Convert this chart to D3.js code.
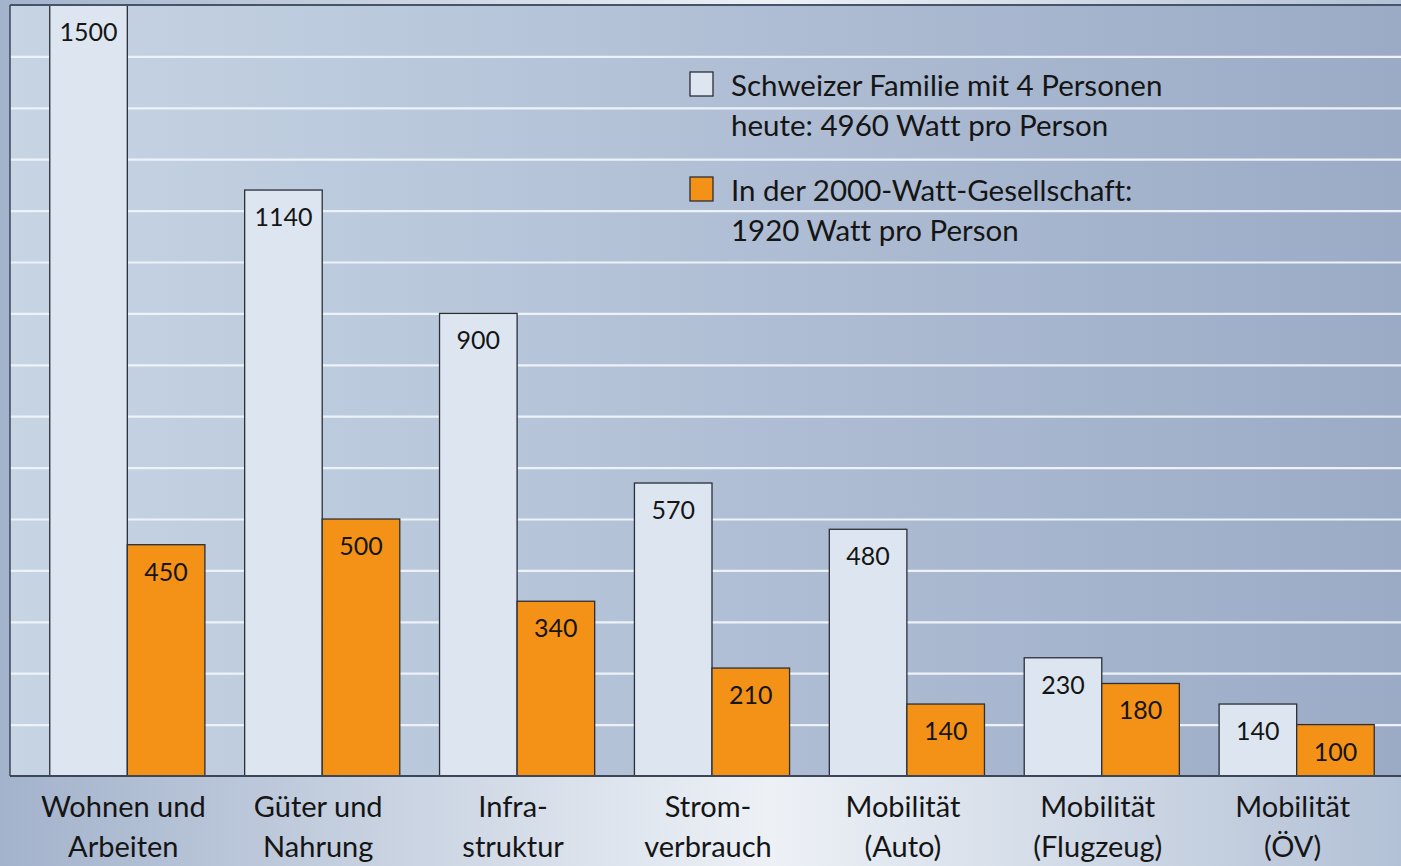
<!DOCTYPE html>
<html>
<head>
<meta charset="utf-8">
<script src="https://cdn.jsdelivr.net/npm/d3@7"></script>
<style>
    body { margin: 0; overflow: hidden; }
    text { font-family: Lato, "Open Sans", sans-serif; fill: #151515; font-variant-ligatures: none; }
</style>
</head>
<body>
<div id="chart"></div>
<script>
// data (Watt per person)
const categories = ["Wohnen und|Arbeiten", "Güter und|Nahrung", "Infra-|struktur", "Strom-|verbrauch",
    "Mobilität|(Auto)", "Mobilität|(Flugzeug)", "Mobilität|(ÖV)"];
const heute = [1500, 1140, 900, 570, 480, 230, 140];
const ziel = [450, 500, 340, 210, 140, 180, 100];
const seriesKeys = ["heute", "ziel"];
const seriesColors = ["#dde6f0", "#f39216"];
const legendLines = [
    ["Schweizer Familie mit 4 Personen", "heute: 4960 Watt pro Person"],
    ["In der 2000-Watt-Gesellschaft:", "1920 Watt pro Person"]
];
const gridValues = [100, 200, 300, 400, 500, 600, 700, 800, 900, 1000, 1100, 1200, 1300, 1400];

var W = 1401, H = 866;
var margin = {top: 5, left: 10, bottom: 90};

var svg = d3.select("#chart")
    .append("svg")
    .attr("width", W)
    .attr("height", H);

var defs = svg.append("defs");
var bgGrad = defs.append("linearGradient").attr("id", "bg");
bgGrad.append("stop").attr("offset", "0").attr("stop-color", "#a3b3cc");
bgGrad.append("stop").attr("offset", "0.55").attr("stop-color", "#edf1f6");
bgGrad.append("stop").attr("offset", "1").attr("stop-color", "#b3c1d6");

var plotGrad = defs.append("linearGradient").attr("id", "plotbg");
plotGrad.append("stop").attr("offset", "0").attr("stop-color", "#c6d4e4");
plotGrad.append("stop").attr("offset", "1").attr("stop-color", "#9babc6");

// backgrounds
svg.append("rect")
    .attr("width", W).attr("height", H)
    .attr("fill", "url(#bg)");

var rows = categories.map((c, i) => ({cat: c, heute: heute[i], ziel: ziel[i]}));

// scales
var y = d3.scaleLinear()
    .domain([0, 1500])
    .range([H - margin.bottom, margin.top]);

var x0 = d3.scaleBand()
    .domain(categories)
    .range([margin.left, 1414])
    .paddingInner(0.204)
    .paddingOuter(0.204);

var x1 = d3.scaleBand()
    .domain(seriesKeys)
    .range([0, x0.bandwidth()]);

var color = d3.scaleOrdinal()
    .domain(seriesKeys)
    .range(seriesColors);

svg.append("rect")
    .attr("x", margin.left)
    .attr("y", y(1500))
    .attr("width", W - margin.left)
    .attr("height", y(0) - y(1500))
    .attr("fill", "url(#plotbg)");

// white grid lines
var grid = svg.append("g")
    .attr("transform", "translate(" + margin.left + ",0)")
    .call(d3.axisRight(y).tickValues(gridValues).tickSize(W - margin.left).tickFormat(""));
grid.select(".domain").remove();
grid.selectAll(".tick line")
    .attr("stroke", "#edf2f8")
    .attr("stroke-width", 2.2);

// bars
var groups = svg.selectAll(".group")
    .data(rows)
    .enter()
    .append("g")
    .attr("class", "group")
    .attr("transform", d => "translate(" + x0(d.cat) + ",0)");

var bars = groups.selectAll("g.bar")
    .data(d => seriesKeys.map(k => ({key: k, value: d[k]})))
    .enter()
    .append("g")
    .attr("class", "bar");

bars.append("rect")
    .attr("x", d => x1(d.key))
    .attr("y", d => y(d.value))
    .attr("width", x1.bandwidth())
    .attr("height", d => y(0) - y(d.value))
    .attr("fill", d => color(d.key))
    .attr("stroke", "#2a2f38")
    .attr("stroke-width", 1.3);

bars.append("text")
    .attr("x", d => x1(d.key) + x1.bandwidth() / 2)
    .attr("y", d => y(d.value) + 36)
    .attr("text-anchor", "middle")
    .style("font-size", "25px")
    .text(d => d.value);

// axis frame
svg.append("line")
    .attr("x1", margin.left).attr("x2", margin.left)
    .attr("y1", y(1500)).attr("y2", y(0))
    .attr("stroke", "#3c4656").attr("stroke-width", 1.5);
svg.append("line")
    .attr("x1", margin.left).attr("x2", W)
    .attr("y1", y(1500)).attr("y2", y(1500))
    .attr("stroke", "#465468").attr("stroke-width", 2);

var xAxis = svg.append("g")
    .attr("transform", "translate(0," + y(0) + ")")
    .call(d3.axisBottom(x0).tickSize(0).tickFormat(""));
xAxis.select(".domain")
    .attr("d", "M" + margin.left + ",0H" + W)
    .attr("stroke", "#3c4656")
    .attr("stroke-width", 2);

// two-line category labels
xAxis.selectAll(".tick").each(function (d) {
    var lines = d.split("|");
    var t = d3.select(this).append("text")
        .attr("text-anchor", "middle")
        .attr("x", -4)
        .style("font-size", "29px")
        .style("fill", "#151515");
    lines.forEach((l, i) => {
        t.append("tspan").attr("x", -4).attr("y", 41 + i * 40).text(l);
    });
});

// legend
var legend = svg.append("g")
    .attr("transform", "translate(690,0)");

var items = legend.selectAll(".item")
    .data(seriesKeys)
    .enter()
    .append("g")
    .attr("class", "item")
    .attr("transform", (d, i) => "translate(0," + (i * 105) + ")");

items.append("rect")
    .attr("y", 72)
    .attr("width", 23)
    .attr("height", 24)
    .attr("fill", d => color(d))
    .attr("stroke", "#2a2f38")
    .attr("stroke-width", 1.3);

items.each(function (d, i) {
    var g = d3.select(this);
    legendLines[i].forEach((l, j) => {
        g.append("text")
            .attr("x", 41)
            .attr("y", 96 + j * 40)
            .style("font-size", "29.5px")
            .text(l);
    });
});
</script>
</body>
</html>
